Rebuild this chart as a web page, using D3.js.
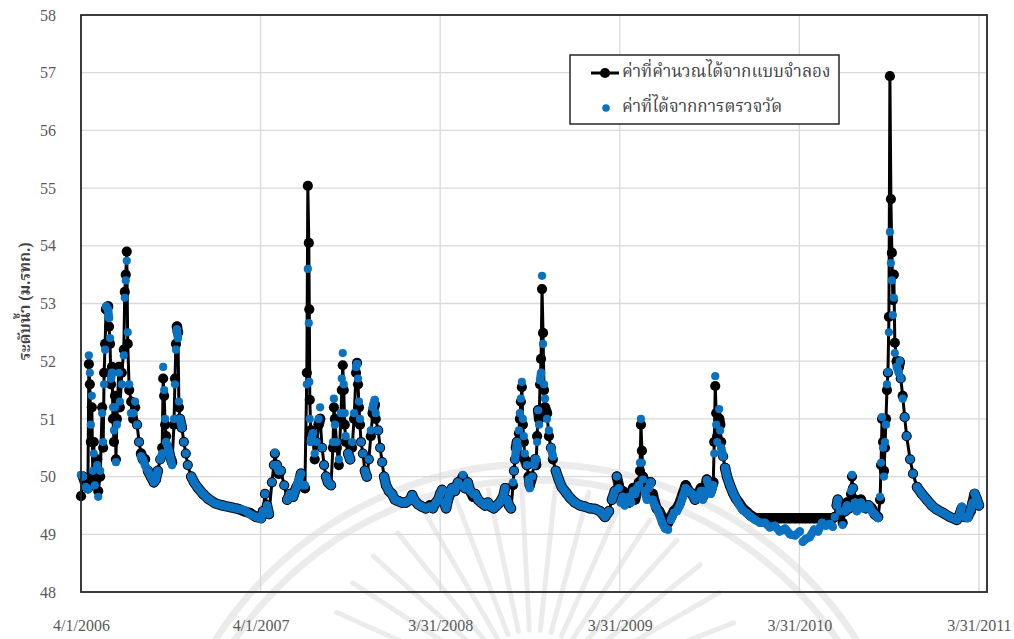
<!DOCTYPE html>
<html>
<head>
<meta charset="utf-8">
<script src="https://cdn.jsdelivr.net/npm/d3@7"></script>
<style>
  body { margin: 0; background: #fff; }
  svg { display: block; }
</style>
</head>
<body>
<svg id="chart"></svg>
<script>
// days since 4/1/2006
const days = [
  0, 4, 10, 14, 16, 18, 20, 22, 24, 26, 28, 33, 35, 39, 43, 45, 47, 49, 51, 55, 57, 59, 61, 63, 65, 67, 69, 71, 73, 77, 79, 83, 87, 89, 91, 93, 95, 98,
  102, 106, 110, 114, 118, 122, 126, 130, 136, 142, 148, 152, 156, 161, 165, 167, 169, 171, 173, 177, 181, 185, 189, 191, 193, 195, 197, 199, 201, 205,
  209, 213, 217, 224, 230, 238, 248, 258, 272, 287, 303, 319, 331, 343, 356, 366,
  370, 374, 378, 382, 388, 392, 394, 398, 402, 406, 413, 419, 425, 431, 437, 443, 447, 451, 455, 459, 461, 463, 464, 465, 467, 471, 475, 479, 483, 486,
  490, 494, 498, 502, 508, 512, 514, 516, 520, 524, 528, 530, 532, 534, 536, 538, 543, 547, 551, 555, 559, 561, 563, 565, 567, 569, 573, 577, 581, 585,
  589, 593, 597, 599, 604, 608, 612, 616, 620, 626, 632, 638, 644, 652, 660, 669, 673, 677, 685, 693, 701, 709, 715, 721, 726, 730, 734,
  738, 742, 746, 750, 754, 760, 766, 770, 776, 780, 786, 791, 797, 801, 807, 813, 821, 827, 833, 839, 845, 851, 858, 862, 866, 870, 874, 878, 880, 882,
  884, 886, 888, 890, 892, 894, 896, 898, 900, 902, 906, 910, 912, 917, 921, 923, 925, 927, 929, 931, 933, 935, 937, 939, 941, 943, 947, 951, 955, 959,
  965, 971, 977, 986, 994, 1004, 1014, 1024, 1034, 1045, 1055, 1065, 1073, 1079, 1085, 1089,
  1093, 1097, 1101, 1105, 1110, 1114, 1118, 1122, 1126, 1130, 1134, 1136, 1138, 1140, 1142, 1146, 1150, 1154, 1158, 1162, 1166, 1170, 1175, 1181, 1187,
  1193, 1199, 1205, 1211, 1217, 1223, 1229, 1235, 1242, 1248, 1254, 1260, 1264, 1268, 1272, 1276, 1280, 1285, 1287, 1289, 1291, 1293, 1297, 1299, 1301,
  1305, 1309, 1313, 1319, 1325, 1331, 1337, 1345, 1354, 1362, 1370, 1380, 1390, 1400, 1410, 1420, 1431, 1441, 1451, 1461, 1467, 1473, 1481, 1490, 1498,
  1506, 1514, 1522, 1528,
  1532, 1536, 1538, 1542, 1548, 1553, 1557, 1561, 1565, 1567, 1569, 1573, 1577, 1581, 1585, 1589, 1595, 1601, 1607, 1613, 1620, 1624, 1626, 1628, 1630,
  1632, 1634, 1636, 1638, 1640, 1642, 1644, 1646, 1648, 1650, 1652, 1654, 1658, 1662, 1664, 1666, 1670, 1674, 1678, 1685, 1691, 1699, 1709, 1719, 1729,
  1739, 1752, 1766, 1780, 1786, 1790, 1796, 1802, 1808, 1812, 1816, 1821, 1825
];

// ค่าที่คำนวณได้จากแบบจำลอง
const computed = [
  49.66, 50.0, 49.85, 49.8, 51.95, 51.6, 50.6, 51.2, 50.0, 50.6, 49.9, 50.3, 49.75, 50.0, 51.2, 50.5, 51.8, 52.3, 52.9, 52.95, 52.6, 52.3, 51.6, 51.9, 51.0, 50.6, 51.4, 50.3, 51.0, 51.9, 51.2, 51.8, 52.2, 53.2, 53.5, 53.9, 52.3, 51.5,
  51.3, 51.0, 51.2, 50.9, 50.6, 50.4, 50.3, 50.3, 50.1, 50.0, 49.9, 49.95, 50.1, 50.3, 50.5, 51.7, 51.4, 50.9, 50.7, 50.5, 50.35, 50.25, 50.9, 51.7, 52.3, 52.6, 52.5, 51.2, 51.0, 50.85,
  50.6, 50.4, 50.2, 50.0, 49.9, 49.8, 49.7, 49.62, 49.54, 49.5, 49.47, 49.44, 49.4, 49.37, 49.3, 49.28,
  49.4, 49.7, 49.5, 49.35, 49.9, 50.2, 50.4, 50.2, 50.05, 50.1, 49.85, 49.6, 49.7, 49.65, 49.8, 49.9, 50.05, 49.85, 49.8, 51.8, 55.04, 54.05, 52.9, 51.33, 50.8, 50.7, 50.3, 50.6, 50.9, 51.0,
  50.5, 50.2, 50.0, 49.9, 49.85, 50.5, 51.2, 51.0, 50.5, 50.2, 51.0, 51.5, 51.93, 51.5, 50.9, 50.6, 50.4, 50.3, 50.5, 51.0, 51.8, 51.97, 51.6, 51.2, 50.9, 50.6, 50.4, 50.1, 50.0, 50.3,
  50.7, 51.1, 51.25, 51.0, 50.8, 50.5, 50.25, 50.0, 49.85, 49.75, 49.7, 49.6, 49.58, 49.55, 49.55, 49.6, 49.68, 49.6, 49.52, 49.48, 49.45, 49.5, 49.45, 49.55, 49.6, 49.7, 49.77,
  49.55, 49.45, 49.6, 49.7, 49.8, 49.75, 49.9, 49.85, 50.0, 49.8, 49.9, 49.75, 49.65, 49.7, 49.6, 49.55, 49.5, 49.55, 49.48, 49.45, 49.5, 49.55, 49.65, 49.8, 49.6, 49.5, 49.45, 49.85, 50.1, 50.3,
  50.5, 50.6, 50.4, 50.75, 51.0, 51.3, 51.55, 50.9, 50.6, 50.3, 50.2, 50.0, 49.85, 50.0, 50.25, 50.3, 50.2, 50.7, 51.15, 51.0, 51.6, 52.04, 53.25, 52.49, 51.5, 51.2, 51.1, 50.7, 50.5, 50.3,
  50.1, 49.95, 49.82, 49.72, 49.63, 49.55, 49.5, 49.48, 49.45, 49.44, 49.4, 49.3, 49.4, 49.6, 49.75, 50.0,
  49.85, 49.6, 49.75, 49.6, 49.7, 49.55, 49.7, 49.8, 49.6, 49.75, 49.9, 50.1, 50.9, 50.45, 50.0, 49.85, 49.75, 49.9, 49.9, 49.7, 49.55, 49.45, 49.4, 49.3, 49.25,
  49.2, 49.3, 49.4, 49.45, 49.55, 49.7, 49.85, 49.75, 49.7, 49.6, 49.7, 49.8, 49.65, 49.8, 49.95, 49.85, 49.75, 49.9, 50.6, 51.57, 51.1, 50.7, 51.0, 50.9, 50.6,
  50.35, 50.15, 50.0, 49.85, 49.72, 49.62, 49.55, 49.45, 49.38, 49.32, 49.28, 49.28, 49.28, 49.28, 49.28, 49.28, 49.28, 49.28, 49.28, 49.28, 49.28, 49.28, 49.28, 49.28, 49.28,
  49.28, 49.28, 49.28, 49.28,
  49.3, 49.5, 49.6, 49.4, 49.2, 49.4, 49.55, 49.45, 49.7, 50.0, 49.8, 49.6, 49.45, 49.55, 49.6, 49.5, 49.45, 49.5, 49.45, 49.35, 49.3, 49.6, 50.2, 51.0, 50.6,
  50.1, 50.5, 51.0, 51.5, 51.8, 52.77, 56.94, 54.81, 53.88, 53.06, 53.5, 52.32, 52.0, 51.9, 51.99, 51.7, 51.4, 51.03, 50.7, 50.3, 50.05, 49.82, 49.7, 49.6, 49.5,
  49.43, 49.37, 49.3, 49.25, 49.35, 49.45, 49.3, 49.3, 49.4, 49.55, 49.7, 49.6, 49.5
];

// ค่าที่ได้จากการตรวจวัด
const observed = [
  50.03, 50.0, 49.82, 49.78, 52.1, 51.8, 50.9, 51.4, 50.1, 50.4, 49.85, 50.2, 49.65, 50.1, 51.1, 50.6, 51.6, 52.2, 52.95, 52.9, 52.75, 52.4, 51.7, 51.8, 51.2, 50.8, 51.2, 50.25, 50.9, 51.8, 51.3, 51.6, 52.1, 53.1, 53.4, 53.74, 52.5, 51.6,
  51.1, 51.1, 51.3, 50.9, 50.6, 50.35, 50.3, 50.2, 50.1, 50.0, 49.9, 49.95, 50.1, 50.3, 50.4, 51.9, 51.5, 51.0, 50.6, 50.5, 50.35, 50.2, 51.0, 51.6, 52.2, 52.55, 52.4, 51.3, 51.0, 50.85,
  50.6, 50.4, 50.2, 50.0, 49.9, 49.8, 49.7, 49.62, 49.54, 49.5, 49.47, 49.44, 49.42, 49.35, 49.3, 49.27,
  49.4, 49.7, 49.5, 49.35, 49.9, 50.2, 50.41, 50.2, 50.1, 50.1, 49.85, 49.6, 49.7, 49.65, 49.8, 49.95, 50.05, 49.85, 49.85, 51.6, 53.6, 52.66, 51.64, 51.0, 50.6, 50.75, 50.4, 50.6, 51.0, 51.2,
  50.5, 50.2, 50.0, 49.9, 49.85, 50.6, 51.35, 50.9, 50.6, 50.3, 51.1, 51.7, 52.14, 51.6, 51.1, 50.7, 50.4, 50.3, 50.6, 51.1, 51.9, 51.95, 51.7, 51.3, 51.0, 50.6, 50.4, 50.1, 50.0, 50.3,
  50.8, 51.2, 51.33, 51.1, 50.8, 50.5, 50.25, 50.0, 49.85, 49.75, 49.7, 49.6, 49.58, 49.55, 49.55, 49.6, 49.68, 49.6, 49.52, 49.48, 49.45, 49.48, 49.45, 49.55, 49.6, 49.7, 49.77,
  49.55, 49.45, 49.6, 49.75, 49.8, 49.75, 49.9, 49.85, 50.03, 49.8, 49.9, 49.75, 49.7, 49.7, 49.6, 49.55, 49.5, 49.55, 49.48, 49.45, 49.5, 49.55, 49.65, 49.8, 49.6, 49.5, 49.45, 49.9, 50.1, 50.3,
  50.45, 50.6, 50.5, 50.8, 51.1, 51.35, 51.64, 51.0, 50.7, 50.4, 50.2, 49.95, 49.8, 50.0, 50.2, 50.3, 50.3, 50.6, 51.15, 50.9, 51.67, 51.8, 53.48, 52.3, 51.6, 51.35, 51.0, 50.8, 50.5, 50.35,
  50.1, 49.95, 49.82, 49.72, 49.63, 49.55, 49.5, 49.48, 49.45, 49.44, 49.4, 49.3, 49.4, 49.6, 49.75, 50.0,
  49.8, 49.55, 49.65, 49.5, 49.6, 49.65, 49.55, 49.75, 49.7, 49.8, 49.85, 50.24, 51.0, 50.24, 49.95, 49.75, 49.6, 49.8, 49.9, 49.6, 49.5, 49.45, 49.35, 49.2, 49.1,
  49.08, 49.25, 49.37, 49.4, 49.5, 49.65, 49.8, 49.75, 49.7, 49.6, 49.65, 49.75, 49.6, 49.75, 49.94, 49.85, 49.7, 49.85, 50.4, 51.74, 50.9, 50.6, 51.17, 50.8, 50.5,
  50.35, 50.15, 50.0, 49.85, 49.72, 49.62, 49.52, 49.42, 49.36, 49.3, 49.25, 49.2, 49.2, 49.12, 49.15, 49.05, 49.1, 49.0, 48.98, 49.05, 48.87, 48.92, 48.95, 49.08, 49.05,
  49.2, 49.15, 49.18, 49.13,
  49.3, 49.5, 49.6, 49.4, 49.16, 49.4, 49.5, 49.45, 49.75, 50.03, 49.8, 49.55, 49.4, 49.5, 49.55, 49.45, 49.45, 49.5, 49.4, 49.35, 49.28, 49.65, 50.24, 51.03, 50.5,
  50.0, 50.6, 50.9, 51.6, 51.81, 52.5, 54.24, 53.7, 53.4, 52.8, 53.1, 52.14, 51.9, 51.8, 52.0, 51.7, 51.35, 51.03, 50.7, 50.3, 50.05, 49.82, 49.7, 49.6, 49.5,
  49.43, 49.37, 49.3, 49.25, 49.35, 49.48, 49.3, 49.28, 49.42, 49.55, 49.71, 49.6, 49.5
];

const xTicks = ["4/1/2006", "4/1/2007", "3/31/2008", "3/31/2009", "3/31/2010", "3/31/2011"];
const yTicks = [48, 49, 50, 51, 52, 53, 54, 55, 56, 57, 58];
const seriesNames = ["ค่าที่คำนวณได้จากแบบจำลอง", "ค่าที่ได้จากการตรวจวัด"];
const yTitle = "ระดับน้ำ (ม.รทก.)";

const WIDTH = 1014;
const HEIGHT = 639;
const PLOT = { left: 81, right: 987, top: 15, bottom: 592 };
const BLACK = "#000";
const BLUE = "#0b72c2";
const FONT = "'Liberation Serif', 'Noto Serif Thai', 'Noto Sans Thai', 'Tlwg Typo', Garuda, serif";

const parseMDY = (s) => {
  const [m, d, y] = s.split("/").map(Number);
  return new Date(y, m - 1, d);
};
const start = new Date(2006, 3, 1);
const dayToDate = (n) => new Date(2006, 3, 1 + n);

const compData = days.map((d, i) => ({ date: dayToDate(d), v: computed[i] }));
const obsData = days.map((d, i) => ({ date: dayToDate(d), v: observed[i] }));

const svg = d3.select("#chart")
  .attr("width", WIDTH)
  .attr("height", HEIGHT)
  .style("font-family", FONT);

const x = d3.scaleTime()
  .domain([start, new Date(2011, 3, 16, 8)])
  .range([PLOT.left, PLOT.right]);
const y = d3.scaleLinear()
  .domain([48, 58])
  .range([PLOT.bottom, PLOT.top]);

// faint watermark behind the chart
const wm = svg.append("g").attr("stroke", "#000").attr("stroke-opacity", 0.08).attr("fill", "none");
[380, 364].forEach(r => {
  wm.append("circle").attr("cx", 536).attr("cy", 844).attr("r", r).attr("stroke-width", 7);
});
d3.range(-165, -14, 9).forEach(a => {
  const t = a * Math.PI / 180;
  wm.append("line")
    .attr("x1", 533 + 70 * Math.cos(t)).attr("y1", 700 + 70 * Math.sin(t))
    .attr("x2", 533 + 215 * Math.cos(t)).attr("y2", 700 + 215 * Math.sin(t))
    .attr("stroke-width", 5)
    .attr("stroke-linecap", "round");
});

// grid
const tickDates = xTicks.map(parseMDY);
svg.append("g")
  .selectAll("line.h")
  .data(yTicks.slice(1, -1))
  .join("line")
  .attr("x1", PLOT.left).attr("x2", PLOT.right)
  .attr("y1", d => y(d)).attr("y2", d => y(d))
  .attr("stroke", "#d9d9d9").attr("stroke-width", 1.3);
svg.append("g")
  .selectAll("line.v")
  .data(tickDates.slice(1))
  .join("line")
  .attr("x1", d => x(d)).attr("x2", d => x(d))
  .attr("y1", PLOT.top).attr("y2", PLOT.bottom)
  .attr("stroke", "#d9d9d9").attr("stroke-width", 1.3);

// axes
const xAxis = d3.axisBottom(x)
  .tickValues(tickDates)
  .tickSize(0)
  .tickPadding(28)
  .tickFormat(d => `${d.getMonth() + 1}/${d.getDate()}/${d.getFullYear()}`);
const yAxis = d3.axisLeft(y).tickValues(yTicks).tickSize(0).tickPadding(25);

const gx = svg.append("g").attr("transform", `translate(0,${PLOT.bottom})`).call(xAxis);
const gy = svg.append("g").attr("transform", `translate(${PLOT.left},0)`).call(yAxis);
[gx, gy].forEach(g => {
  g.select(".domain").remove();
  g.selectAll("text")
    .style("font-family", FONT)
    .style("font-size", "16px")
    .attr("fill", "#595959");
});

svg.append("text")
  .attr("transform", `translate(26,${(PLOT.top + PLOT.bottom) / 2 - 2}) rotate(-90)`)
  .attr("text-anchor", "middle")
  .attr("dominant-baseline", "middle")
  .style("font-size", "16px")
  .style("font-weight", "bold")
  .attr("fill", "#404040")
  .text(yTitle);

// split a series into runs where neighbouring points sit close together
function runs(data) {
  const out = [];
  let cur = [];
  data.forEach((d, i) => {
    if (i > 0) {
      const p = data[i - 1];
      const far = Math.abs(y(d.v) - y(p.v)) > 9 || x(d.date) - x(p.date) > 9;
      if (far) { out.push(cur); cur = []; }
    }
    cur.push(d);
  });
  out.push(cur);
  return out.filter(r => r.length > 1);
}

const line = d3.line().x(d => x(d.date)).y(d => y(d.v));
const plot = svg.append("g");

// computed: line with markers
plot.selectAll(".comp-band")
  .data(runs(compData))
  .join("path")
  .attr("d", line)
  .attr("fill", "none")
  .attr("stroke", "#1a1a1a")
  .attr("stroke-width", 10.5)
  .attr("stroke-linejoin", "round")
  .attr("stroke-linecap", "round");
plot.append("path")
  .datum(compData)
  .attr("d", line)
  .attr("fill", "none")
  .attr("stroke", BLACK)
  .attr("stroke-width", 3)
  .attr("stroke-linejoin", "round");
plot.selectAll(".comp-dot")
  .data(compData)
  .join("circle")
  .attr("cx", d => x(d.date))
  .attr("cy", d => y(d.v))
  .attr("r", 5.1)
  .attr("fill", BLACK);

// observed: markers only
plot.selectAll(".obs-band")
  .data(runs(obsData))
  .join("path")
  .attr("d", line)
  .attr("fill", "none")
  .attr("stroke", BLUE)
  .attr("stroke-width", 8.4)
  .attr("stroke-linejoin", "round")
  .attr("stroke-linecap", "round");
plot.selectAll(".obs-dot")
  .data(obsData)
  .join("circle")
  .attr("cx", d => x(d.date))
  .attr("cy", d => y(d.v))
  .attr("r", 4.1)
  .attr("fill", BLUE);

// plot border
svg.append("rect")
  .attr("x", PLOT.left).attr("y", PLOT.top)
  .attr("width", PLOT.right - PLOT.left)
  .attr("height", PLOT.bottom - PLOT.top)
  .attr("fill", "none")
  .attr("stroke", "#262626")
  .attr("stroke-width", 1.8);

// legend
const lg = svg.append("g").attr("transform", "translate(570,55)");
lg.append("rect")
  .attr("width", 269).attr("height", 69)
  .attr("fill", "#fff")
  .attr("stroke", "#262626")
  .attr("stroke-width", 1.5);
lg.append("line")
  .attr("x1", 21).attr("x2", 49).attr("y1", 18).attr("y2", 18)
  .attr("stroke", BLACK).attr("stroke-width", 3);
lg.append("circle").attr("cx", 35).attr("cy", 18).attr("r", 5.1).attr("fill", BLACK);
lg.append("circle").attr("cx", 36).attr("cy", 53).attr("r", 3.8).attr("fill", BLUE);
lg.selectAll("text.lab")
  .data(seriesNames)
  .join("text")
  .attr("x", 52)
  .attr("y", (d, i) => 18 + i * 35)
  .attr("dominant-baseline", "middle")
  .style("font-size", "17px")
  .attr("fill", "#404040")
  .text(d => d);
</script>
</body>
</html>
